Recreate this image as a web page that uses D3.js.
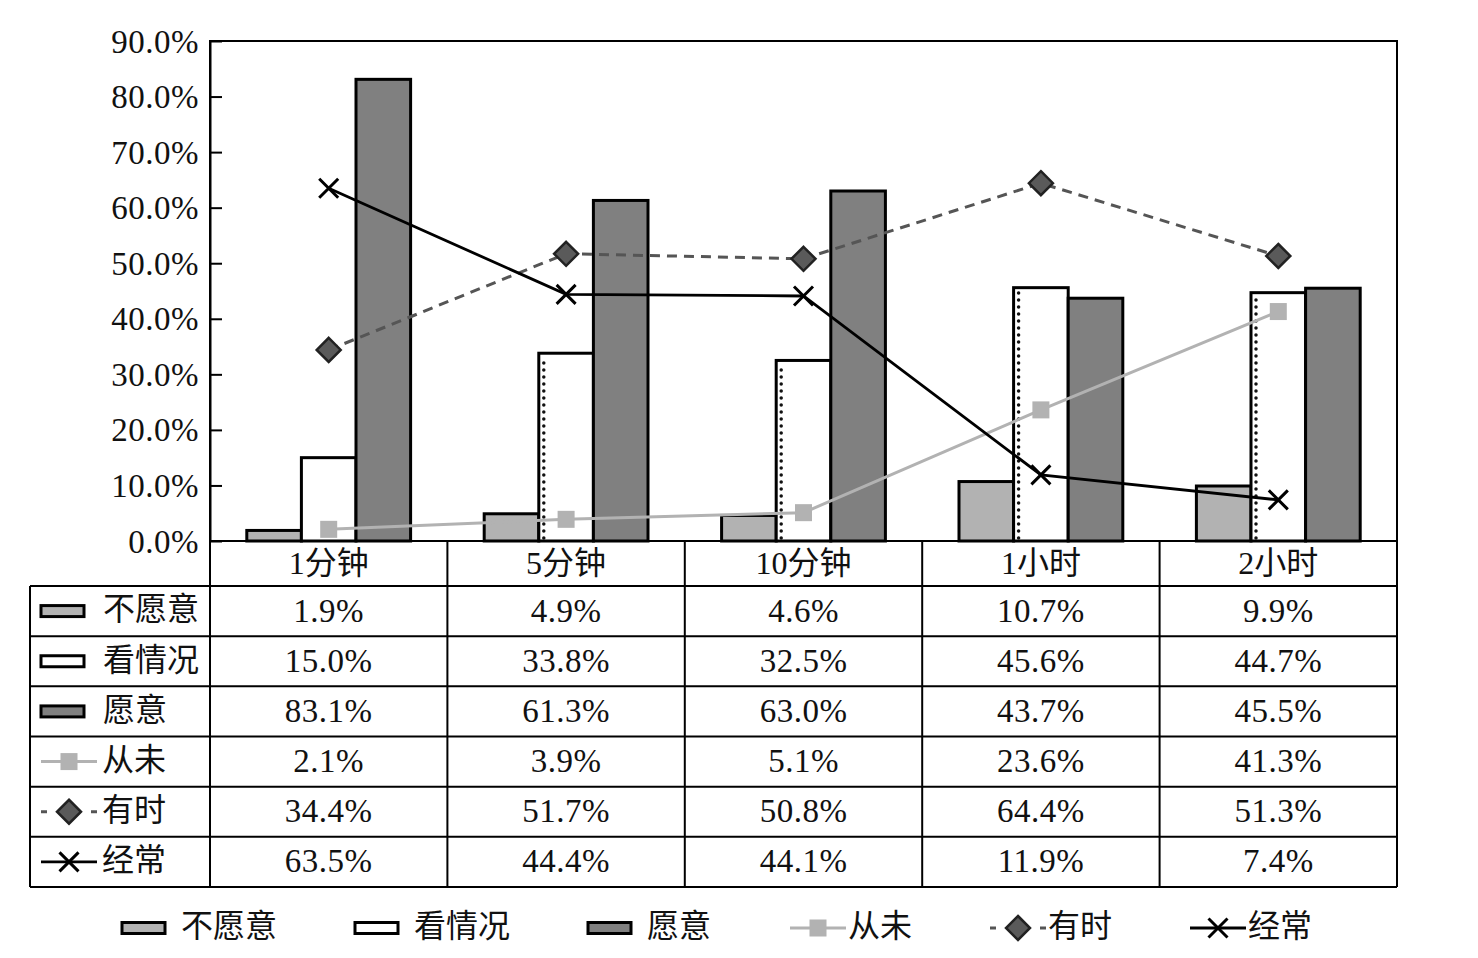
<!DOCTYPE html>
<html><head><meta charset="utf-8">
<script src="https://cdn.jsdelivr.net/npm/d3@7"></script>
<style>
html,body{margin:0;padding:0;background:#fff;}
svg{display:block;}
text{font-family:"Liberation Serif","Noto Sans CJK SC",serif;fill:#111;}
</style></head>
<body>
<svg id="c" width="1478" height="958"></svg>
<script>
const categories = ["1分钟","5分钟","10分钟","1小时","2小时"];
const barSeries = ["不愿意","看情况","愿意"];
const lineSeries = ["从未","有时","经常"];
const buYuanYi = [1.9,4.9,4.6,10.7,9.9];
const kanQingKuang = [15.0,33.8,32.5,45.6,44.7];
const yuanYi = [83.1,61.3,63.0,43.7,45.5];
const congWei = [2.1,3.9,5.1,23.6,41.3];
const youShi = [34.4,51.7,50.8,64.4,51.3];
const jingChang = [63.5,44.4,44.1,11.9,7.4];
const yTicks = [0,10,20,30,40,50,60,70,80,90];

const barValues = {"不愿意":buYuanYi,"看情况":kanQingKuang,"愿意":yuanYi};
const lineValues = {"从未":congWei,"有时":youShi,"经常":jingChang};
const barFill = {"不愿意":"#b2b2b2","看情况":"#ffffff","愿意":"#808080"};

const svg = d3.select("#c");
const L=210, R=1397, T=41, B=541;
const tableL=30, rowTop=586, rowBot=887;

const x = d3.scaleBand().domain(categories).range([L,R]).padding(0);
const bw = x.bandwidth();
const groupW = bw*0.69;
const xb = d3.scaleBand().domain(barSeries).range([(bw-groupW)/2,(bw+groupW)/2]).padding(0);
const y = d3.scaleLinear().domain([0,90]).range([B,T]);
const rows = barSeries.concat(lineSeries);
const yr = d3.scaleBand().domain(rows).range([rowTop,rowBot]);

const fmt = v => v.toFixed(1)+"%";
const NUM_SIZE = 33;

// bars
const gBars = svg.append("g");
barSeries.forEach(s=>{
  gBars.selectAll(null).data(barValues[s].map((v,i)=>({c:categories[i],v,i})))
    .enter().append("rect")
    .attr("x",d=>x(d.c)+xb(s)).attr("width",xb.bandwidth())
    .attr("y",d=>y(d.v)).attr("height",d=>B-y(d.v))
    .attr("fill",barFill[s]).attr("stroke","#000").attr("stroke-width",3);
});
// dotted artifact on 看情况 bars (cats 2..5)
gBars.selectAll(null).data(kanQingKuang.map((v,i)=>({c:categories[i],v,i})).filter(d=>d.i>0))
  .enter().append("line")
  .attr("x1",d=>x(d.c)+xb("看情况")+5).attr("x2",d=>x(d.c)+xb("看情况")+5)
  .attr("y1",B-3).attr("y2",d=>y(d.v)+4)
  .attr("stroke","#111").attr("stroke-width",3.5).attr("stroke-linecap","round")
  .attr("stroke-dasharray","0,7");

// plot frame
svg.append("rect").attr("x",L).attr("y",T).attr("width",R-L).attr("height",B-T)
  .attr("fill","none").attr("stroke","#000").attr("stroke-width",2);

// y axis
const yAxis = d3.axisRight(y).tickValues(yTicks.slice(1,-1)).tickSize(12).tickFormat("");
const ga = svg.append("g").attr("transform",`translate(${L},0)`).call(yAxis);
ga.select(".domain").attr("stroke","#000").attr("stroke-width",2);
ga.selectAll(".tick line").attr("stroke","#000").attr("stroke-width",2);
svg.append("g").selectAll("text").data(yTicks).enter().append("text")
  .attr("x",199).attr("y",d=>y(d)+4).attr("text-anchor","end")
  .attr("dominant-baseline","middle").attr("font-size",NUM_SIZE).attr("letter-spacing",0.5)
  .text(d=>d.toFixed(1)+"%");

// markers
function marker(g, s, cx, cy){
  if(s==="从未"){
    g.append("rect").attr("x",cx-8.5).attr("y",cy-8.5).attr("width",17).attr("height",17).attr("fill","#b2b2b2");
  } else if(s==="有时"){
    const r=12;
    g.append("path").attr("d",`M${cx},${cy-r}L${cx+r},${cy}L${cx},${cy+r}L${cx-r},${cy}Z`)
      .attr("fill","#5a5a5a").attr("stroke","#222").attr("stroke-width",2.5);
  } else {
    const r=9.5;
    g.append("path").attr("d",`M${cx-r},${cy-r}L${cx+r},${cy+r}M${cx-r},${cy+r}L${cx+r},${cy-r}`)
      .attr("stroke","#000").attr("stroke-width",3).attr("fill","none");
  }
}
const lineStyle = {
  "从未":{stroke:"#b2b2b2",w:3,dash:null},
  "有时":{stroke:"#555555",w:3,dash:"10,7"},
  "经常":{stroke:"#000000",w:2.8,dash:null}
};
const gLines = svg.append("g");
lineSeries.forEach(s=>{
  const pts = lineValues[s].map((v,i)=>[x(categories[i])+bw/2, y(v)]);
  gLines.append("path").attr("d",d3.line()(pts)).attr("fill","none")
    .attr("stroke",lineStyle[s].stroke).attr("stroke-width",lineStyle[s].w)
    .attr("stroke-dasharray",lineStyle[s].dash);
  pts.forEach(p=>marker(gLines,s,p[0],p[1]));
});

// table grid
const gt = svg.append("g").attr("stroke","#000").attr("stroke-width",2);
gt.append("line").attr("x1",L).attr("x2",L).attr("y1",T).attr("y2",rowBot);
gt.append("line").attr("x1",R).attr("x2",R).attr("y1",T).attr("y2",rowBot);
gt.append("line").attr("x1",tableL).attr("x2",tableL).attr("y1",rowTop).attr("y2",rowBot);
categories.slice(1).forEach(c=>{
  gt.append("line").attr("x1",x(c)).attr("x2",x(c)).attr("y1",B).attr("y2",rowBot);
});
rows.forEach(r=>{
  gt.append("line").attr("x1",tableL).attr("x2",R).attr("y1",yr(r)).attr("y2",yr(r));
});
gt.append("line").attr("x1",tableL).attr("x2",R).attr("y1",rowBot).attr("y2",rowBot);

// category labels
svg.append("g").selectAll("text").data(categories).enter().append("text")
  .attr("x",c=>x(c)+bw/2).attr("y",(B+rowTop)/2+3).attr("text-anchor","middle")
  .attr("dominant-baseline","middle").attr("font-size",32).text(c=>c);

// table values
rows.forEach(r=>{
  const vals = barValues[r] || lineValues[r];
  svg.append("g").selectAll("text").data(vals).enter().append("text")
    .attr("x",(d,i)=>x(categories[i])+bw/2).attr("y",yr(r)+yr.bandwidth()/2+3)
    .attr("text-anchor","middle").attr("dominant-baseline","middle")
    .attr("font-size",NUM_SIZE).attr("letter-spacing",0.5).text(fmt);
});

// legend key drawing
function key(g, s, x0, cy){
  if(barSeries.includes(s)){
    g.append("rect").attr("x",x0).attr("y",cy-5.5).attr("width",43).attr("height",11)
      .attr("fill",barFill[s]).attr("stroke","#000").attr("stroke-width",3);
    return x0+62;
  }
  const st = lineStyle[s];
  if(s==="有时"){
    g.append("line").attr("x1",x0).attr("x2",x0+6).attr("y1",cy).attr("y2",cy).attr("stroke",st.stroke).attr("stroke-width",3);
    g.append("line").attr("x1",x0+50).attr("x2",x0+56).attr("y1",cy).attr("y2",cy).attr("stroke",st.stroke).attr("stroke-width",3);
  } else {
    g.append("line").attr("x1",x0).attr("x2",x0+56).attr("y1",cy).attr("y2",cy).attr("stroke",st.stroke).attr("stroke-width",st.w);
  }
  marker(g,s,x0+28,cy);
  return x0+61;
}
// table row keys
const gk = svg.append("g");
rows.forEach(r=>{
  const cy = yr(r)+yr.bandwidth()/2;
  const tx = key(gk, r, 41, cy);
  gk.append("text").attr("x",tx).attr("y",cy+2).attr("dominant-baseline","middle")
    .attr("font-size",32).text(r);
});

// bottom legend
const legendX = {"不愿意":122,"看情况":355,"愿意":588,"从未":790,"有时":990,"经常":1190};
const gl = svg.append("g");
rows.forEach(r=>{
  const tx = key(gl, r, legendX[r], 928);
  gl.append("text").attr("x",tx-3).attr("y",930).attr("dominant-baseline","middle")
    .attr("font-size",32).text(r);
});
</script>
</body></html>
